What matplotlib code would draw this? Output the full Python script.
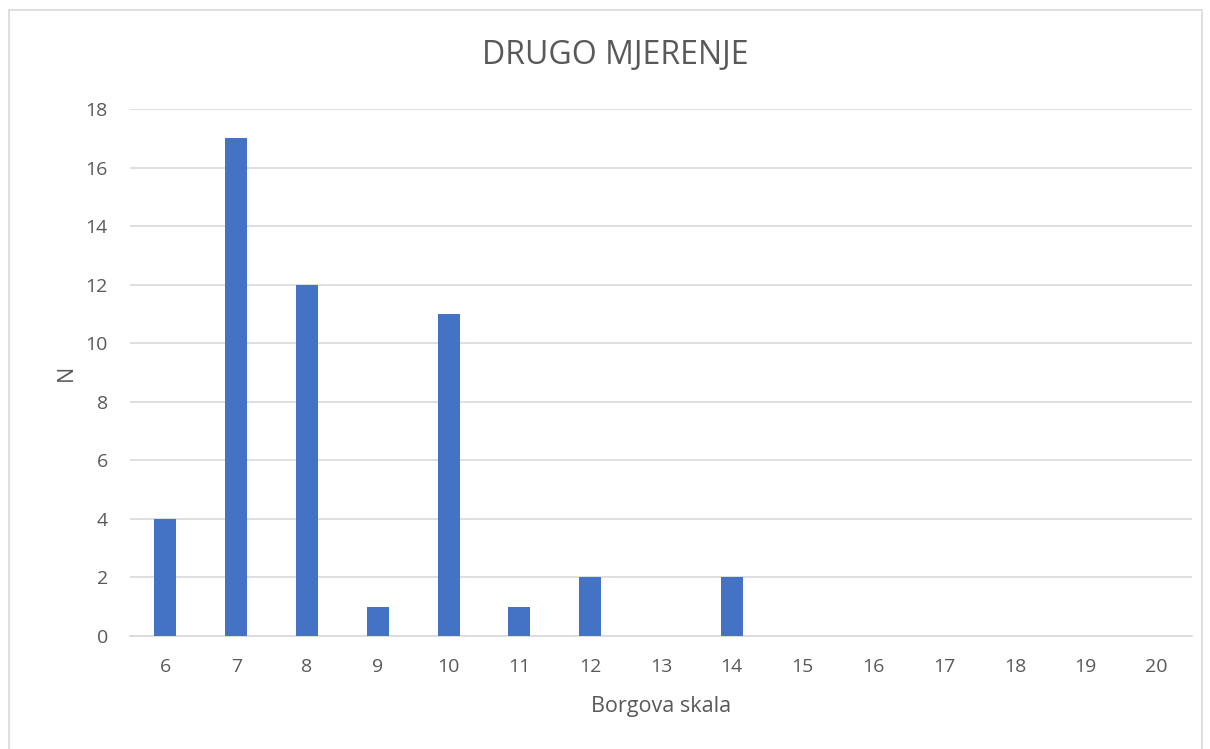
import matplotlib.pyplot as plt
import numpy as np

# podaci: Borgova skala i broj ispitanika
kategorije = ['6', '7', '8', '9', '10', '11', '12', '13', '14', '15', '16', '17', '18', '19', '20']
n_vrijednosti = [4, 17, 12, 1, 11, 1, 2, 0, 2, 0, 0, 0, 0, 0, 0]
y_oznake = [0, 2, 4, 6, 8, 10, 12, 14, 16, 18]

plt.rcParams['font.family'] = ['Open Sans', 'DejaVu Sans']

fig = plt.figure(figsize=(12.1, 7.49), dpi=100)
# okvir grafikona
fig.patches.append(plt.Rectangle((9/1210, -0.01), (1202-9)/1210, 1 - 10/749 + 0.01,
                                 transform=fig.transFigure, fill=False,
                                 edgecolor='#d9d9d9', linewidth=1.2))

ax = fig.add_axes([130/1210, 1 - 636/749, (1192-130)/1210, (636-109)/749])
x = np.arange(len(kategorije))
ax.bar(x, n_vrijednosti, width=0.31, color='#4472c4', zorder=3)

ax.set_xlim(-0.5, len(kategorije) - 0.5)
ax.set_ylim(0, 18)
ax.set_xticks(x)
ax.set_xticklabels(kategorije)
ax.set_yticks(y_oznake)
ax.grid(axis='y', color='#d9d9d9', linewidth=1.2, zorder=0)
for s in ['top', 'right', 'left']:
    ax.spines[s].set_visible(False)
ax.spines['bottom'].set_color('#d9d9d9')
ax.spines['bottom'].set_linewidth(1.2)
ax.tick_params(length=0, labelsize=14, colors='#595959', pad=16)
ax.tick_params(axis='y', pad=16)

ax.set_xlabel('Borgova skala', fontsize=15.5, color='#595959', labelpad=14)
ax.set_ylabel('N', fontsize=15.5, color='#595959', labelpad=6)
fig.text(615/1210, 1 - 55/749, 'DRUGO MJERENJE', ha='center', va='center',
         fontsize=23, color='#595959')

plt.savefig('out.png', dpi=100)
